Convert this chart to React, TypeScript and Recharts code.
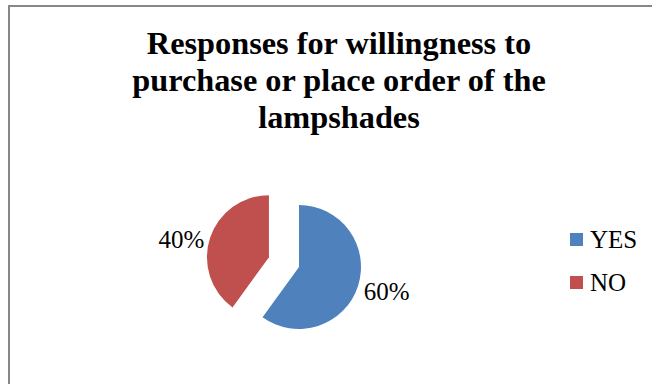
import React from "react";
import { PieChart, Pie, Cell, Legend } from "recharts";

const categories = ["YES", "NO"];
const values = [60, 40];
const colors = ["#4F81BD", "#C0504D"];
const titleLines = [
  "Responses for willingness to",
  "purchase or place order of the",
  "lampshades",
];

const data = categories.map((name, i) => ({ name, value: values[i] }));

const FONT = "Liberation Serif, serif";
const CX = 299;
const CY = 267;
const R = 62;
const EXPLODE = 31.6;
const START = 90;
const END = -270;

const total = values.reduce((a, b) => a + b, 0);
const noStart = START - (values[0] / total) * 360;
const noMid = noStart - ((values[1] / total) * 360) / 2;
const RAD = Math.PI / 180;
const CX2 = CX + EXPLODE * Math.cos(noMid * RAD);
const CY2 = CY - EXPLODE * Math.sin(noMid * RAD);

const makeLabel = (showIndex: number) => (props: any) => {
  const { cx, cy, midAngle, outerRadius, index, percent } = props;
  if (index !== showIndex) return null;
  const r = outerRadius + 6;
  const x = cx + r * Math.cos(-midAngle * RAD);
  const y = cy + r * Math.sin(-midAngle * RAD);
  return (
    <text
      x={x}
      y={y}
      dy={3}
      textAnchor={x > cx ? "start" : "end"}
      dominantBaseline="central"
      style={{ fontFamily: FONT }}
      fontSize={25}
      fill="#000"
    >
      {`${Math.round(percent * 100)}%`}
    </text>
  );
};

const LegendContent = () => (
  <div style={{ fontFamily: FONT, fontSize: 25, color: "#000" }}>
    {categories.map((c, i) => (
      <div
        key={c}
        style={{ display: "flex", alignItems: "center", height: 43 }}
      >
        <span
          style={{
            display: "inline-block",
            width: 13,
            height: 13,
            background: colors[i],
            marginRight: 7,
          }}
        />
        <span style={{ lineHeight: "25px" }}>{c}</span>
      </div>
    ))}
  </div>
);

export default function App() {
  return (
    <div
      style={{
        position: "absolute",
        left: 0,
        top: 0,
        width: 652,
        height: 384,
        background: "#fff",
        overflow: "hidden",
        fontFamily: FONT,
      }}
    >
      <div
        style={{
          position: "absolute",
          left: 8,
          top: 5,
          width: 700,
          height: 377,
          borderLeft: "2px solid #878787",
          borderTop: "2px solid #878787",
          borderBottom: "1px solid #e4e4e4",
        }}
      />
      <div
        style={{
          position: "absolute",
          left: 39,
          width: 600,
          top: 25,
          textAlign: "center",
          fontFamily: FONT,
          fontWeight: "bold",
          fontSize: 32.3,
          lineHeight: "37px",
          color: "#000",
        }}
      >
        {titleLines.map((l) => (
          <div key={l}>{l}</div>
        ))}
      </div>
      <div style={{ position: "absolute", left: 0, top: 0 }}>
        <PieChart
          width={652}
          height={384}
          margin={{ top: 0, right: 0, bottom: 0, left: 0 }}
          style={{ fontFamily: FONT }}
        >
          <Pie
            data={data}
            dataKey="value"
            nameKey="name"
            cx={CX}
            cy={CY}
            outerRadius={R}
            startAngle={START}
            endAngle={END}
            stroke="none"
            isAnimationActive={false}
            label={makeLabel(0)}
            labelLine={false}
          >
            {data.map((d, i) => (
              <Cell key={d.name} fill={i === 0 ? colors[0] : "transparent"} />
            ))}
          </Pie>
          <Pie
            data={data}
            dataKey="value"
            nameKey="name"
            cx={CX2}
            cy={CY2}
            outerRadius={R}
            startAngle={START}
            endAngle={END}
            stroke="none"
            isAnimationActive={false}
            label={makeLabel(1)}
            labelLine={false}
          >
            {data.map((d, i) => (
              <Cell key={d.name} fill={i === 1 ? colors[1] : "transparent"} />
            ))}
          </Pie>
          <Legend
            content={<LegendContent />}
            wrapperStyle={{ left: 570, top: 218, width: 80 }}
          />
        </PieChart>
      </div>
    </div>
  );
}
